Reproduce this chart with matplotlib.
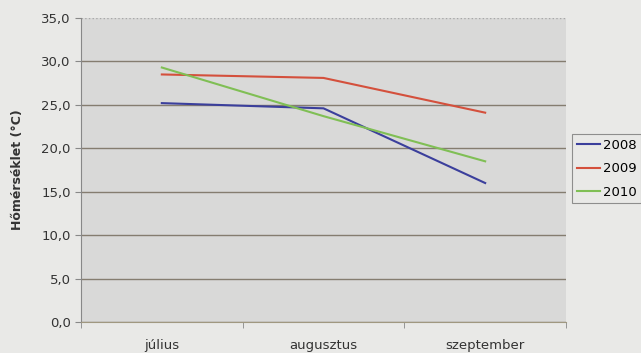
import matplotlib
matplotlib.use("Agg")
import matplotlib.pyplot as plt
from matplotlib.ticker import FixedLocator, FuncFormatter

categories = ["július", "augusztus", "szeptember"]
years = ["2008", "2009", "2010"]
values_2008 = [25.2, 24.6, 16.0]
values_2009 = [28.5, 28.1, 24.1]
values_2010 = [29.3, 23.7, 18.5]
yticks = [0, 5, 10, 15, 20, 25, 30, 35]

colors = ["#3b3f9c", "#d4503c", "#80bf55"]

fig = plt.figure(figsize=(6.41, 3.53), dpi=100)
fig.patch.set_facecolor("#e9e9e7")
ax = fig.add_axes([81/641, 1-322/353, (566-81)/641, (322-18)/353])
ax.set_facecolor("#d9d9d8")

x = list(range(len(categories)))
for vals, c, lab in zip([values_2008, values_2009, values_2010], colors, years):
    ax.plot(x, vals, color=c, lw=1.5, label=lab)

ax.set_xlim(-0.5, len(categories) - 0.5)
ax.set_ylim(0, 35)
ax.set_yticks(yticks)
ax.yaxis.set_major_formatter(FuncFormatter(lambda v, p: f"{v:.1f}".replace(".", ",")))
ax.grid(axis="y", color="#857d70", lw=1.0)
ax.set_axisbelow(True)
gl = ax.get_ygridlines()
gl[-1].set_linestyle(":")
gl[-1].set_color("#a8a8a8")

ax.set_xticks(x)
ax.set_xticklabels(categories, fontsize=9.5, color="#333333")
ax.xaxis.set_minor_locator(FixedLocator([-0.5, 0.5, 1.5, 2.5]))
ax.tick_params(axis="x", which="major", length=0, pad=12)
ax.tick_params(axis="x", which="minor", length=4, color="#888888")
ax.tick_params(axis="y", length=4, color="#888888", labelsize=9.5, labelcolor="#333333")

for s in ["top", "right"]:
    ax.spines[s].set_visible(False)
ax.spines["left"].set_color("#888888")
ax.spines["bottom"].set_color("#a09880")

ax.set_ylabel("Hőmérséklet (°C)", fontsize=9, fontweight="bold", color="#333333", labelpad=12)

leg = fig.legend(loc="upper left", bbox_to_anchor=(572/641, 1-134/353), frameon=True,
                 fontsize=9.5, handlelength=1.8, handletextpad=0.2, borderpad=0.35,
                 borderaxespad=0, labelspacing=0.8, fancybox=False)
leg.get_frame().set_edgecolor("#777777")
leg.get_frame().set_facecolor("#e9e9e7")
leg.get_frame().set_linewidth(0.8)

fig.savefig("out.png", dpi=100, facecolor=fig.get_facecolor())
